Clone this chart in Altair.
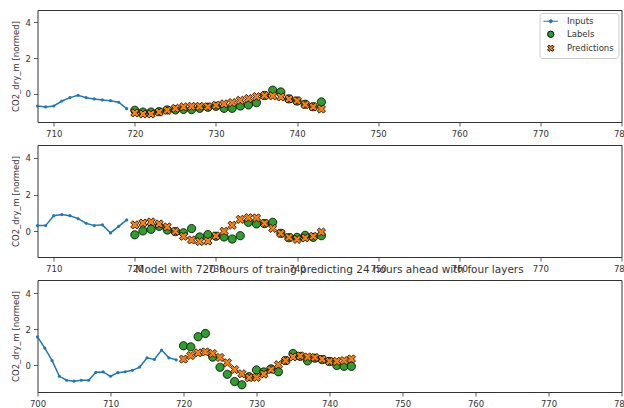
import altair as alt
import pandas as pd

FONT = "DejaVu Sans"
TXT = "#333333"

# ---------------- data ----------------
LABEL_HOURS = list(range(720, 744))

INPUT_HOURS_A = list(range(708, 720))
INPUTS_A = [-0.70, -0.75, -0.70, -0.42, -0.23, -0.10, -0.23, -0.30, -0.36, -0.40, -0.49, -0.85]
LABELS_A = [-0.94, -1.04, -1.04, -1.02, -0.92, -0.92, -0.89, -0.90, -0.83, -0.77, -0.72, -0.83,
            -0.83, -0.70, -0.64, -0.51, -0.11, 0.19, 0.09, -0.30, -0.42, -0.60, -0.74, -0.47]
PREDS_A = [-1.09, -1.15, -1.15, -1.04, -0.94, -0.83, -0.75, -0.72, -0.72, -0.74, -0.66, -0.58,
           -0.51, -0.38, -0.28, -0.17, -0.11, -0.13, -0.19, -0.30, -0.40, -0.62, -0.75, -0.87]

INPUT_HOURS_B = list(range(708, 720))
INPUTS_B = [0.31, 0.31, 0.85, 0.91, 0.85, 0.69, 0.44, 0.31, 0.35, -0.09, 0.27, 0.62]
LABELS_B = [-0.19, 0.02, 0.11, 0.27, 0.07, -0.02, -0.08, 0.15, -0.31, -0.18, -0.27, -0.31,
            -0.42, -0.24, 0.49, 0.40, 0.42, 0.49, -0.11, -0.35, -0.33, -0.22, -0.33, -0.24]
PREDS_B = [0.35, 0.45, 0.51, 0.40, 0.24, 0.00, -0.27, -0.47, -0.56, -0.53, -0.25, 0.00,
           0.33, 0.65, 0.74, 0.73, 0.44, 0.16, -0.11, -0.33, -0.44, -0.36, -0.27, -0.04]

INPUT_HOURS_C = list(range(700, 720))
INPUTS_C = [1.58, 0.96, 0.27, -0.60, -0.82, -0.87, -0.82, -0.82, -0.38, -0.36,
            -0.60, -0.40, -0.35, -0.27, -0.09, 0.42, 0.33, 0.85, 0.42, 0.31]
LABELS_C = [1.09, 1.03, 1.59, 1.77, 0.46, -0.10, -0.49, -0.89, -1.07, -0.62, -0.25, -0.36,
            -0.19, -0.35, 0.27, 0.66, 0.50, 0.25, 0.40, 0.32, 0.22, 0.00, -0.05, -0.05]
PREDS_C = [0.35, 0.55, 0.70, 0.75, 0.66, 0.44, 0.15, -0.23, -0.46, -0.68, -0.66, -0.48,
           -0.23, 0.04, 0.27, 0.47, 0.53, 0.47, 0.44, 0.35, 0.23, 0.23, 0.27, 0.36]

X_TICKS_AB = [710, 720, 730, 740, 750, 760, 770, 780]
X_TICKS_C = [700, 710, 720, 730, 740, 750, 760, 770, 780]
Y_TICKS = [0, 2, 4]

TITLE = "Model with 720 hours of traing predicting 24 hours ahead with four layers"
Y_TITLE = "CO2_dry_m [normed]"

SERIES = ["Inputs", "Labels", "Predictions"]
FILLS = ["#1f77b4", "#2ca02c", "#ff7f0e"]
STROKES = ["#1f77b4", "#000000", "#000000"]
INPUT_SYMBOL = "M-2.3,0L2.3,0M-0.5,0A0.5,0.5,0,1,0,0.5,0A0.5,0.5,0,1,0,-0.5,0Z"
X_SYMBOL = ("M-1,-0.5L-0.5,-1L0,-0.5L0.5,-1L1,-0.5L0.5,0L1,0.5L0.5,1L0,0.5"
            "L-0.5,1L-1,0.5L-0.5,0Z")
SHAPES = [INPUT_SYMBOL, "circle", X_SYMBOL]

W, H = 584, 112


def panel(in_hours, in_vals, lab_vals, pred_vals, xdom, xticks, ydom, show_legend, title=None):
    inp = pd.DataFrame({"hour": in_hours, "value": in_vals})
    pts = pd.DataFrame({
        "hour": LABEL_HOURS + LABEL_HOURS,
        "value": lab_vals + pred_vals,
        "series": ["Labels"] * len(lab_vals) + ["Predictions"] * len(pred_vals),
    })
    x = alt.X("hour:Q", scale=alt.Scale(domain=xdom, nice=False, zero=False),
              axis=alt.Axis(values=xticks, title=None, format="d"))
    y = alt.Y("value:Q", scale=alt.Scale(domain=ydom, nice=False, zero=False),
              axis=alt.Axis(values=Y_TICKS, title=Y_TITLE, format="d"))
    if show_legend:
        leg = alt.Legend(title=None, orient="top-right", offset=3, padding=4,
                         strokeColor="#cccccc", fillColor="white", cornerRadius=3,
                         symbolSize=40, symbolStrokeWidth=1.0, labelOffset=12,
                         symbolOffset=3, rowPadding=3, labelFontSize=8.5,
                         labelFont=FONT, labelColor=TXT)
    else:
        leg = None
    line = alt.Chart(inp).mark_line(
        color="#1f77b4", strokeWidth=1.5,
        point=alt.OverlayMarkDef(filled=True, size=10, color="#1f77b4"),
    ).encode(x=x, y=y)
    points = alt.Chart(pts).mark_point(filled=True, size=68, strokeWidth=0.8, opacity=1).encode(
        x=x, y=y,
        color=alt.Color("series:N", scale=alt.Scale(domain=SERIES, range=FILLS), legend=leg),
        stroke=alt.Stroke("series:N", scale=alt.Scale(domain=SERIES, range=STROKES), legend=leg),
        shape=alt.Shape("series:N", scale=alt.Scale(domain=SERIES, range=SHAPES), legend=leg),
        order=alt.Order("series:N"),
    )
    props = dict(width=W, height=H)
    if title:
        props["title"] = alt.TitleParams(title, font=FONT, fontSize=10.5, fontWeight="normal",
                                         color=TXT, anchor="middle", baseline="alphabetic",
                                         offset=-3)
    return alt.layer(line, points).properties(**props)


p1 = panel(INPUT_HOURS_A, INPUTS_A, LABELS_A, PREDS_A, [708, 780], X_TICKS_AB, [-1.6, 4.7], True)
p2 = panel(INPUT_HOURS_B, INPUTS_B, LABELS_B, PREDS_B, [708, 780], X_TICKS_AB, [-1.4, 4.7], False)
p3 = panel(INPUT_HOURS_C, INPUTS_C, LABELS_C, PREDS_C, [700, 780], X_TICKS_C, [-1.47, 4.73], False,
           title=TITLE)

chart = alt.vconcat(p1, p2, p3, spacing=23, bounds="flush").resolve_scale(
    color="independent", stroke="independent", shape="independent"
).resolve_legend(
    color="independent", stroke="independent", shape="independent"
).properties(
    padding={"left": 10.5, "top": 9, "right": -7, "bottom": 0},
    background="white",
).configure_view(
    stroke="#333333", strokeWidth=1
).configure_axis(
    labelFont=FONT, titleFont=FONT, labelFontSize=8.5, titleFontSize=8.5,
    labelColor=TXT, titleColor=TXT, tickColor=TXT, tickSize=4, tickWidth=0.8,
    domain=False, grid=False, titleFontWeight="normal", labelPadding=3, titlePadding=5,
    labelFlush=False,
)

chart.save("out.html", embed_options={"renderer": "svg", "actions": False})
